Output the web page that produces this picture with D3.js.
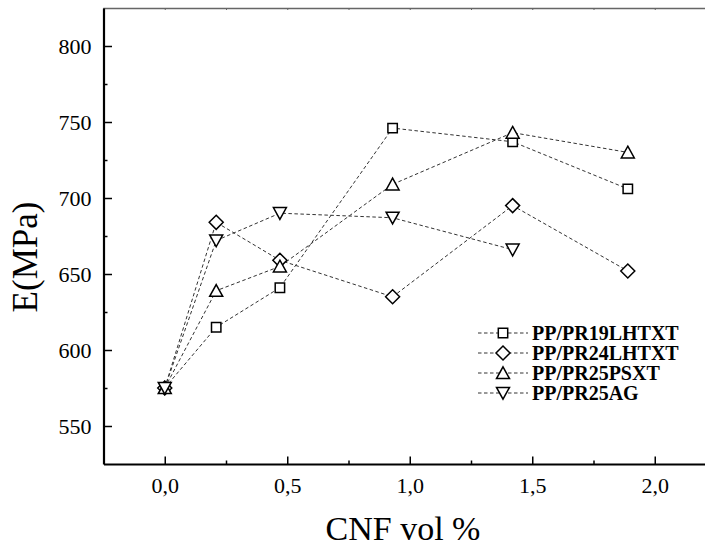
<!DOCTYPE html>
<html>
<head>
<meta charset="utf-8">
<script src="https://cdn.jsdelivr.net/npm/d3@7"></script>
<style>
  html, body { margin: 0; padding: 0; background: #fff; }
  svg { display: block; }
  svg text { font-family: "Liberation Serif", "Times New Roman", Tinos, serif; fill: #000; }
</style>
</head>
<body>
<svg id="chart" width="705" height="547"></svg>
<script>
// CNF content (vol %) for each measured composition
const cnfVol = [0, 0.21, 0.47, 0.93, 1.42, 1.89];

// Young's modulus E (MPa) per fibre type
const seriesNames = ["PP/PR19LHTXT", "PP/PR24LHTXT", "PP/PR25PSXT", "PP/PR25AG"];
const e19LHTXT = [575, 615, 641, 746, 737, 706];
const e24LHTXT = [575, 684, 659, 635, 695, 652];
const e25PSXT  = [575, 639, 655, 709, 743, 730];
const e25AG    = [575, 672, 690, 687, 666];

const seriesValues = [e19LHTXT, e24LHTXT, e25PSXT, e25AG];
const seriesSymbols = ["square", "diamond", "triUp", "triDown"];

const xTicks = [0, 0.5, 1.0, 1.5, 2.0];
const yTicks = [550, 600, 650, 700, 750, 800];

const serif = "'Liberation Serif', 'Times New Roman', Tinos, serif";

const svg = d3.select("#chart");

const x = d3.scaleLinear().domain([-0.25, 2.25]).range([103.5, 716]);
const y = d3.scaleLinear().domain([525, 825]).range([464, 8]);

const locale = d3.formatLocale({ decimal: ",", thousands: ".", grouping: [3], currency: ["", ""] });
const fmtX = locale.format(".1f");

// marker outlines, centred at 0,0
const symbolPath = {
  square:  "M-4.7,-4.7H4.7V4.7H-4.7Z",
  diamond: "M0,-7L7,0L0,7L-7,0Z",
  triUp:   "M0,-6.2L6.5,5.6H-6.5Z",
  triDown: "M0,6.2L6.5,-5.6H-6.5Z"
};

// top frame line with small inward ticks
svg.append("g")
  .attr("transform", `translate(0,${y.range()[1]})`)
  .call(d3.axisTop(x).tickValues(d3.range(0, 2.251, 0.25)).tickSize(-2).tickFormat(""))
  .call(g => g.select(".domain").attr("stroke", "#666").attr("stroke-width", 1.5))
  .call(g => g.selectAll(".tick line").attr("stroke", "#666"));

// x axis: minor ticks, then major ticks with labels
const xAxisG = svg.append("g").attr("transform", `translate(0,${y.range()[0]})`);
xAxisG.append("g")
  .call(d3.axisBottom(x).tickValues([0.25, 0.75, 1.25, 1.75]).tickSize(-3.5).tickFormat(""))
  .call(g => g.select(".domain").remove())
  .call(g => g.selectAll(".tick line").attr("stroke-width", 1.5));
xAxisG.append("g")
  .call(d3.axisBottom(x).tickValues(xTicks).tickSizeInner(-7.5).tickSizeOuter(0).tickPadding(13).tickFormat(fmtX))
  .call(g => g.select(".domain").attr("stroke-width", 2.2))
  .call(g => g.selectAll(".tick line").attr("stroke-width", 1.5))
  .call(g => g.selectAll(".tick text").style("font-family", serif).style("font-size", "22px"));

// y axis: minor ticks, then major ticks with labels
const yAxisG = svg.append("g").attr("transform", `translate(${x.range()[0]},0)`);
yAxisG.append("g")
  .call(d3.axisLeft(y).tickValues([575, 625, 675, 725, 775]).tickSize(-4).tickFormat(""))
  .call(g => g.select(".domain").remove())
  .call(g => g.selectAll(".tick line").attr("stroke-width", 1.5));
yAxisG.append("g")
  .call(d3.axisLeft(y).tickValues(yTicks).tickSizeInner(-8.5).tickSizeOuter(0).tickPadding(12).tickFormat(d3.format("d")))
  .call(g => g.select(".domain").attr("stroke-width", 2.2))
  .call(g => g.selectAll(".tick line").attr("stroke-width", 1.5))
  .call(g => g.selectAll(".tick text").style("font-family", serif).style("font-size", "22px"));

// axis titles
svg.append("text")
  .attr("transform", `translate(37,257) rotate(-90)`)
  .attr("text-anchor", "middle")
  .style("font-family", serif)
  .style("font-size", "35px")
  .text("E(MPa)");

svg.append("text")
  .attr("x", 403).attr("y", 540)
  .attr("text-anchor", "middle")
  .style("font-family", serif)
  .style("font-size", "34px")
  .text("CNF vol %");

// dashed connecting lines
const line = d3.line().x(d => x(d[0])).y(d => y(d[1]));
const plot = svg.append("g");

seriesValues.forEach((vals, i) => {
  const pts = vals.map((v, j) => [cnfVol[j], v]);
  plot.append("path")
    .datum(pts)
    .attr("d", line)
    .attr("fill", "none")
    .attr("stroke", "#333")
    .attr("stroke-width", 1)
    .attr("stroke-dasharray", "3.5,2.5");
});

// markers
seriesValues.forEach((vals, i) => {
  plot.append("g").selectAll("path")
    .data(vals.map((v, j) => [cnfVol[j], v]))
    .join("path")
    .attr("transform", d => `translate(${x(d[0])},${y(d[1])})`)
    .attr("d", symbolPath[seriesSymbols[i]])
    .attr("fill", "#fff")
    .attr("stroke", "#000")
    .attr("stroke-width", 1.5);
});

// legend
const legend = svg.append("g").attr("transform", "translate(478,333)");
seriesNames.forEach((name, i) => {
  const row = legend.append("g").attr("transform", `translate(0,${i * 20})`);
  row.append("line")
    .attr("x1", 0).attr("x2", 50).attr("y1", 0).attr("y2", 0)
    .attr("stroke", "#333").attr("stroke-width", 1).attr("stroke-dasharray", "3.5,2.5");
  row.append("path")
    .attr("transform", "translate(25,0)")
    .attr("d", symbolPath[seriesSymbols[i]])
    .attr("fill", "#fff").attr("stroke", "#000").attr("stroke-width", 1.5);
  row.append("text")
    .attr("x", 54).attr("y", 7)
    .style("font-family", serif)
    .style("font-size", "20px")
    .style("font-weight", "bold")
    .text(name);
});
</script>
</body>
</html>
